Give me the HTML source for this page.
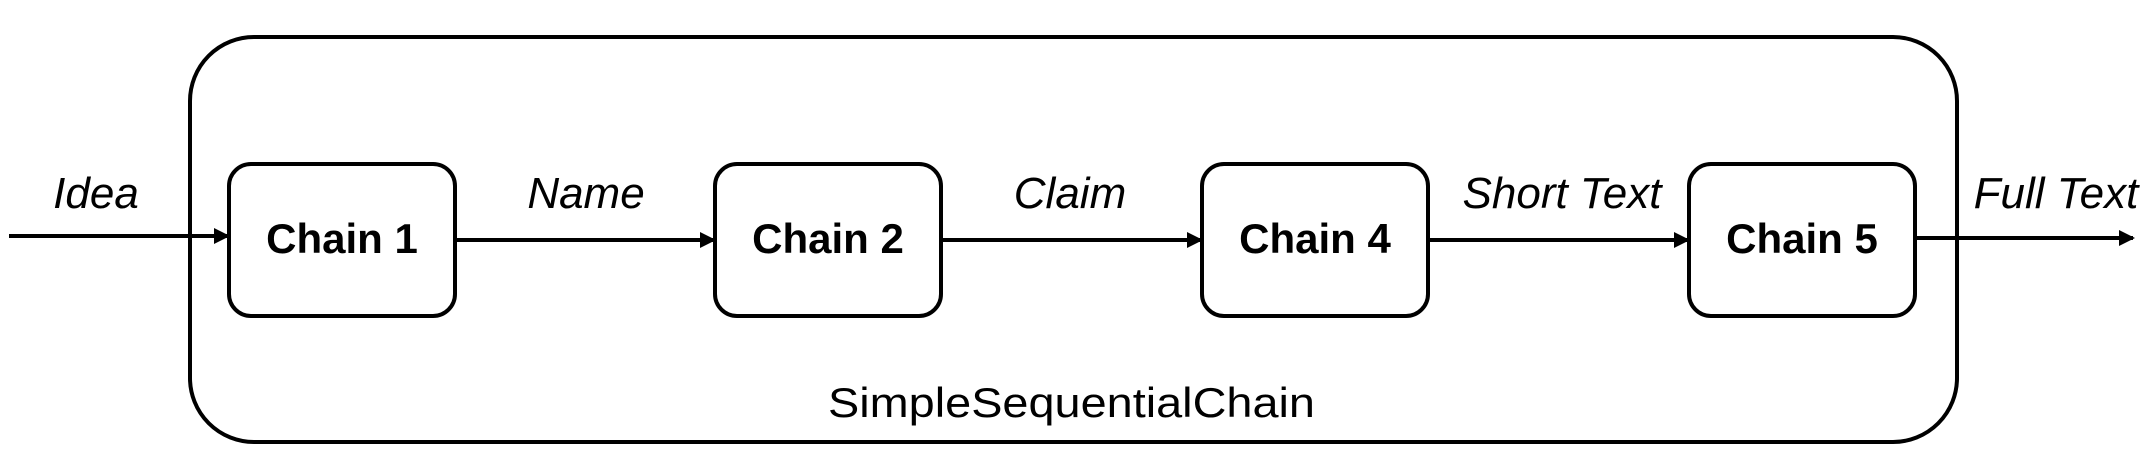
<!DOCTYPE html>
<html><head><meta charset="utf-8"><style>
html,body{margin:0;padding:0;background:#fff;}
svg{display:block;}
text{font-family:"Liberation Sans",sans-serif;fill:#000;}
</style></head><body>
<svg width="2152" height="475" viewBox="0 0 2152 475" xmlns="http://www.w3.org/2000/svg">
<defs>
<marker id="a" markerWidth="16" markerHeight="16" refX="14" refY="8" orient="auto" markerUnits="userSpaceOnUse">
<path d="M0,0 L16,8 L0,16 Z" fill="#000"/>
</marker>
</defs>
<rect x="190" y="37" width="1767" height="405" rx="64" ry="64" fill="none" stroke="#000" stroke-width="4"/>
<g fill="none" stroke="#000" stroke-width="4">
<rect x="229" y="164" width="226" height="152" rx="22"/>
<rect x="715" y="164" width="226" height="152" rx="22"/>
<rect x="1202" y="164" width="226" height="152" rx="22"/>
<rect x="1689" y="164" width="226" height="152" rx="22"/>
</g>
<g stroke="#000" stroke-width="4" marker-end="url(#a)">
<line x1="9" y1="236" x2="228" y2="236"/>
<line x1="455" y1="240" x2="714" y2="240"/>
<line x1="941" y1="240" x2="1201" y2="240"/>
<line x1="1428" y1="240" x2="1688" y2="240"/>
<line x1="1915" y1="238" x2="2133" y2="238"/>
</g>
<g font-weight="bold" font-size="42" text-anchor="middle">
<text x="342" y="253">Chain 1</text>
<text x="828" y="253">Chain 2</text>
<text x="1315" y="253">Chain 4</text>
<text x="1802" y="253">Chain 5</text>
</g>
<g font-style="italic" font-size="44" text-anchor="middle">
<text x="96" y="208">Idea</text>
<text x="586" y="208">Name</text>
<text x="1070" y="208">Claim</text>
<text x="1562" y="208">Short Text</text>
<text x="2056" y="208">Full Text</text>
</g>
<text x="828" y="417" font-size="42" textLength="487" lengthAdjust="spacingAndGlyphs">SimpleSequentialChain</text>
</svg>
</body></html>
